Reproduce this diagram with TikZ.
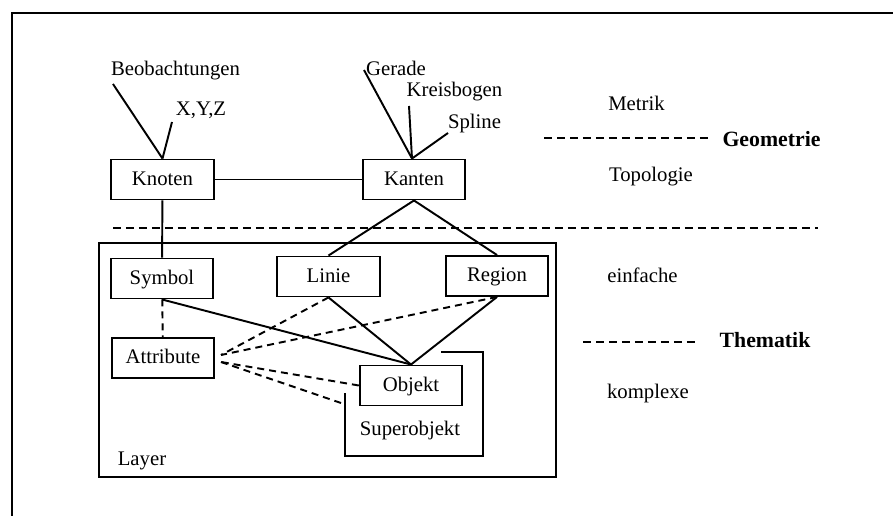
\documentclass[tikz,border=0pt]{standalone}
\usepackage{fontspec}
\setmainfont{Liberation Serif}
\usetikzlibrary{positioning}

\begin{document}
\begin{tikzpicture}[x=0.02cm, y=-0.02cm, line width=1.1pt,
                    font=\fontsize{11.8}{13}\selectfont]
  \tikzset{box/.style={rectangle, draw, minimum width=2.05cm,
                       minimum height=0.8cm, inner sep=0pt,
                       text height=0.7em, text depth=0.04em}}
  \tikzset{lbl/.style={inner sep=0pt}}
  \tikzset{head/.style={lbl, font=\fontsize{12.4}{14}\selectfont\bfseries}}
  \tikzset{sep/.style={dash pattern=on 0.16cm off 0.1cm, line width=0.9pt}}
  \tikzset{rel/.style={dash pattern=on 0.14cm off 0.1cm}}

  \useasboundingbox (0,0) rectangle (893,516);
  % outer frame (cut at the page edge)
  \draw[line width=0.8pt] (12,530) -- (12,13) -- (900,13);

  % Geometrie: Knoten und Kanten
  \node[box] (knoten) at (162.5,179.5) {Knoten};
  \node[box] (kanten) at (414,179.5) {Kanten};
  \draw (knoten) -- (kanten);

  \node[lbl] (beob) at (175.5,71) {Beobachtungen};
  \node[lbl] (xyz) at (201,110) {X,Y,Z};
  \coordinate (beobEnd) at (113,84);
  \coordinate (xyzEnd) at (172,122);
  \draw (beobEnd) -- (knoten.north);
  \draw (xyzEnd) -- (knoten.north);

  \node[lbl] (gerade) at (396,68) {Gerade};
  \node[lbl] (kreis) at (454.5,91.5) {Kreisbogen};
  \node[lbl] (spline) at (474.5,123.5) {Spline};
  \coordinate (geradeEnd) at (364,70);
  \coordinate (kreisEnd) at (409,106);
  \coordinate (splineEnd) at (448,133);
  \foreach \p in {geradeEnd,kreisEnd,splineEnd}{
    \draw (\p) -- ([xshift=-0.04cm]kanten.north);
  }

  % right column
  \node[lbl] (metrik) at (636.5,103.5) {Metrik};
  \node[head] (geometrie) at (771.5,139) {Geometrie};
  \node[lbl] (topologie) at (651,176.5) {Topologie};
  \node[lbl] (einfache) at (642.5,275.5) {einfache};
  \node[head] (thematik) at (765,340.5) {Thematik};
  \node[lbl] (komplexe) at (648,393.5) {komplexe};
  \draw[sep] (544,138) -- (708,138);
  \draw[sep] (583,342) -- (697,342);
  \draw[sep] (113,228) -- (818,228);

  % Layer
  \draw (99,243) rectangle (556,477);
  \node[lbl] (layer) at (142,460.5) {Layer};

  \node[box] (symbol) at (162,278.5) {Symbol};
  \node[box] (linie) at (328.5,276.5) {Linie};
  \node[box] (region) at (497,276) {Region};
  \node[box] (attribute) at (163,358) {Attribute};
  \node[box] (objekt) at (411,385.5) {Objekt};

  % Superobjekt (open frame)
  \draw (441,352) -- (483,352) -- (483,456) -- (345,456) -- (345,393);
  \node[lbl] (superobj) at (410,430.5) {Superobjekt};

  \draw (knoten) -- (symbol);
  \draw (kanten.south) -- (linie.north);
  \draw (kanten.south) -- (region.north);
  \foreach \n in {symbol,linie,region}{
    \draw (\n.south) -- (objekt.north);
  }

  % thematische Beziehungen
  \coordinate (fanA) at (221,355);
  \coordinate (fanB) at (221,362);
  \coordinate (superW) at (341,403);
  \draw[rel] (symbol) -- (attribute);
  \draw[rel] (linie.south) -- (fanA);
  \draw[rel] (region.south) -- (fanA);
  \draw[rel] (objekt.west) -- (fanB);
  \draw[rel] (superW) -- (fanB);
\end{tikzpicture}
\end{document}
